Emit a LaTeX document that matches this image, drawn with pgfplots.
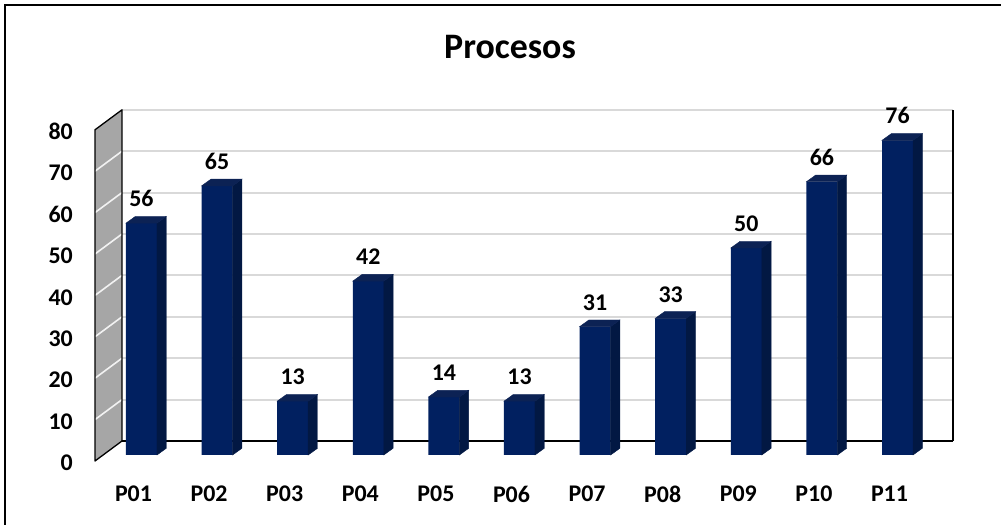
\documentclass[border=0pt]{standalone}
\usepackage{pgfplots}
\pgfplotsset{compat=1.18}
\usepackage{fontspec}
\setmainfont{Carlito}
\definecolor{frontc}{HTML}{012060}
\definecolor{sidec}{HTML}{021843}
\definecolor{topc}{HTML}{0C2254}
\definecolor{wallc}{HTML}{A6A6A6}
\definecolor{gridc}{HTML}{D9D9D9}
\definecolor{wgrid}{HTML}{F2F2F2}
\pgfdeclareplotmark{none3d}{}
\begin{document}
\begin{tikzpicture}
\useasboundingbox (0,0) rectangle (1001bp,525bp);
\draw[line width=1.6bp] (5bp,0) -- (5bp,520bp) -- (1001bp,520bp);
\node[anchor=base, font=\fontsize{36}{40}\selectfont\bfseries] at (510bp,466bp) {Procesos};
\begin{axis}[
  at={(95bp,64bp)}, anchor=south west,
  x=75.6bp, y=4.14bp,
  xmin=-0.615, xmax=10.735, ymin=-1.45, ymax=83.33,
  clip=false,
  axis line style={draw=none},
  major tick length=0pt,
  xtick={0,...,10},
  xticklabels={P01,P02,P03,P04,P05,P06,P07,P08,P09,P10,P11},
  ytick={-1.45,8.55,18.55,28.55,38.55,48.55,58.55,68.55,78.55},
  yticklabels={0,10,20,30,40,50,60,70,80},
  ticklabel style={font=\fontsize{24}{27}\selectfont\bfseries, inner sep=0pt},
  xticklabel style={anchor=north, yshift=-25bp, xshift=-8bp},
  yticklabel style={anchor=east, xshift=-22bp, yshift=-2bp},
  /pgf/number format/assume math mode=true,
]
% left wall
\fill[wallc] (axis cs:-0.615,-1.45) -- (axis cs:-0.615,78.55) -- (axis cs:-0.258,83.38) -- (axis cs:-0.258,3.38) -- cycle;
\draw[wgrid, line width=1.6bp] (axis cs:-0.615,8.55) -- (axis cs:-0.258,13.38);
\draw[wgrid, line width=1.6bp] (axis cs:-0.615,18.55) -- (axis cs:-0.258,23.38);
\draw[wgrid, line width=1.6bp] (axis cs:-0.615,28.55) -- (axis cs:-0.258,33.38);
\draw[wgrid, line width=1.6bp] (axis cs:-0.615,38.55) -- (axis cs:-0.258,43.38);
\draw[wgrid, line width=1.6bp] (axis cs:-0.615,48.55) -- (axis cs:-0.258,53.38);
\draw[wgrid, line width=1.6bp] (axis cs:-0.615,58.55) -- (axis cs:-0.258,63.38);
\draw[wgrid, line width=1.6bp] (axis cs:-0.615,68.55) -- (axis cs:-0.258,73.38);
% back wall grid
\draw[gridc, line width=2bp] (axis cs:-0.258,13.38) -- (axis cs:10.735,13.38);
\draw[gridc, line width=2bp] (axis cs:-0.258,23.38) -- (axis cs:10.735,23.38);
\draw[gridc, line width=2bp] (axis cs:-0.258,33.38) -- (axis cs:10.735,33.38);
\draw[gridc, line width=2bp] (axis cs:-0.258,43.38) -- (axis cs:10.735,43.38);
\draw[gridc, line width=2bp] (axis cs:-0.258,53.38) -- (axis cs:10.735,53.38);
\draw[gridc, line width=2bp] (axis cs:-0.258,63.38) -- (axis cs:10.735,63.38);
\draw[gridc, line width=2bp] (axis cs:-0.258,73.38) -- (axis cs:10.735,73.38);
\draw[gridc, line width=2bp] (axis cs:-0.258,83.38) -- (axis cs:10.735,83.38);
% frame lines
\draw[black, line width=1.3bp] (axis cs:10.735,3.38) -- (axis cs:10.735,83.38);
\draw[black, line width=1.3bp, line join=round] (axis cs:-0.258,3.38) -- (axis cs:-0.615,-1.45) -- (axis cs:-0.615,78.55) -- (axis cs:-0.258,83.38) -- cycle;
\draw[black, line width=1.5bp] (axis cs:-0.258,3.38) -- (axis cs:10.735,3.38);
% bars (front faces)
\addplot[ybar, bar width=31bp, fill=frontc, draw=none,
  nodes near coords,
  nodes near coords style={anchor=south, inner sep=0pt, yshift=16bp,
    font=\fontsize{24}{27}\selectfont\bfseries, text=black}]
  table[x=x, y=v] {
x v
0 56
1 65
2 13
3 42
4 14
5 13
6 31
7 33
8 50
9 66
10 76
};
% bars (top and side faces)
\addplot[only marks, mark=none3d, scatter,
  visualization depends on={value \thisrow{v} \as \val},
  scatter/@pre marker code/.code={%
    \fill[sidec] (15.5bp,0pt) -- ++(9.3bp,6.7bp) -- ++(0pt,{-\val*4.14bp}) -- ++(-9.3bp,-6.7bp) -- cycle;
    \fill[topc] (-15.5bp,0pt) -- ++(9.3bp,6.7bp) -- ++(31bp,0pt) -- ++(-9.3bp,-6.7bp) -- cycle;
  },
  scatter/@post marker code/.code={}]
  table[x=x, y=v] {
x v
0 56
1 65
2 13
3 42
4 14
5 13
6 31
7 33
8 50
9 66
10 76
};
\end{axis}
\end{tikzpicture}
\end{document}
